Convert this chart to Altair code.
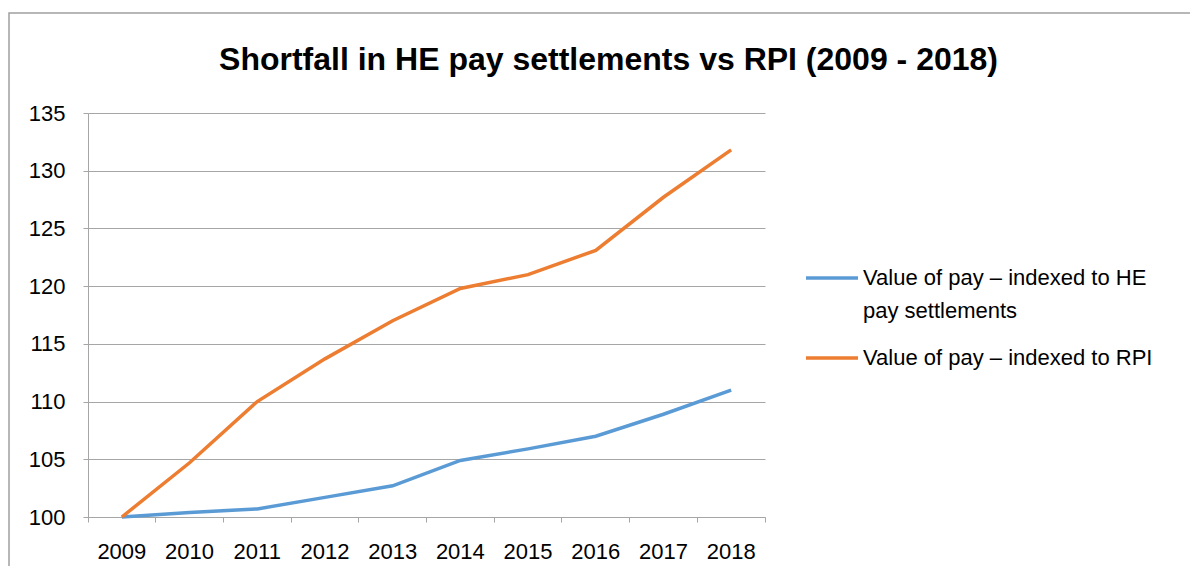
import altair as alt
import pandas as pd

years = ["2009", "2010", "2011", "2012", "2013", "2014", "2015", "2016", "2017", "2018"]
he_values = [100.0, 100.4, 100.7, 101.7, 102.7, 104.9, 105.9, 107.0, 108.9, 111.0]
rpi_values = [100.0, 104.7, 110.0, 113.7, 117.0, 119.8, 121.0, 123.1, 127.7, 131.8]
series_names = ["Value of pay – indexed to HE pay settlements", "Value of pay – indexed to RPI"]
series_colors = ["#5B9BD5", "#ED7D31"]
y_ticks = [100, 105, 110, 115, 120, 125, 130, 135]
title_text = "Shortfall in HE pay settlements vs RPI (2009 - 2018)"

df = pd.DataFrame({
    "year": years * 2,
    "value": he_values + rpi_values,
    "series": [series_names[0]] * len(years) + [series_names[1]] * len(years),
})

W, H = 677, 404
FONT = "Liberation Sans"
GREY = "#A6A6A6"

lines = alt.Chart(df).mark_line(strokeWidth=3.5).encode(
    x=alt.X(
        "year:O",
        sort=years,
        bandPosition=0.5,
        scale=alt.Scale(type="band", paddingInner=0, paddingOuter=0),
        axis=alt.Axis(
            title=None, labelAngle=0, grid=False, bandPosition=1, tickExtra=True,
            labelOffset=0, tickSize=5, labelPadding=19,
            domainColor=GREY, tickColor=GREY, labelFontSize=22, labelFont=FONT,
            labelColor="#000000",
        ),
    ),
    y=alt.Y(
        "value:Q",
        scale=alt.Scale(domain=[100, 135], nice=False, zero=False),
        axis=alt.Axis(
            title=None, values=y_ticks, grid=True, gridColor=GREY, tickSize=5,
            labelPadding=18, domainColor=GREY, tickColor=GREY, labelFontSize=22,
            labelFont=FONT, labelColor="#000000",
        ),
    ),
    color=alt.Color(
        "series:N",
        scale=alt.Scale(domain=series_names, range=series_colors),
        legend=alt.Legend(
            title=None, orient="none", legendX=716, legendY=137,
            symbolType="stroke", symbolSize=2704, symbolStrokeWidth=3.5,
            labelFontSize=22, labelFont=FONT, labelColor="#000000",
            labelLimit=500, rowPadding=8, labelOffset=3,
            labelExpr="datum.label == '" + series_names[0] + "' ? ['Value of pay – indexed to HE', 'pay settlements'] : datum.label",
        ),
    ),
)

frame = alt.Chart(pd.DataFrame({"a": [0]})).mark_rect(
    fill=None, stroke="#A0A0A0", strokeWidth=1.5
).encode(
    x=alt.value(-79), y=alt.value(-100), x2=alt.value(1300), y2=alt.value(700)
)

chart = alt.layer(frame, lines).properties(
    width=W, height=H,
    autosize=alt.AutoSizeParams(type="none"),
    padding={"left": 80, "top": 105, "right": 425, "bottom": 49},
    title=alt.TitleParams(
        title_text, font=FONT, fontSize=32, fontWeight="bold", color="#000000",
        anchor="middle", frame="group", baseline="alphabetic", dx=182, offset=-90,
    ),
).configure(style={"guide-label": {"lineHeight": 33}}).configure_view(stroke=None)

chart.save("out.html", embed_options={"renderer": "svg", "actions": False})
